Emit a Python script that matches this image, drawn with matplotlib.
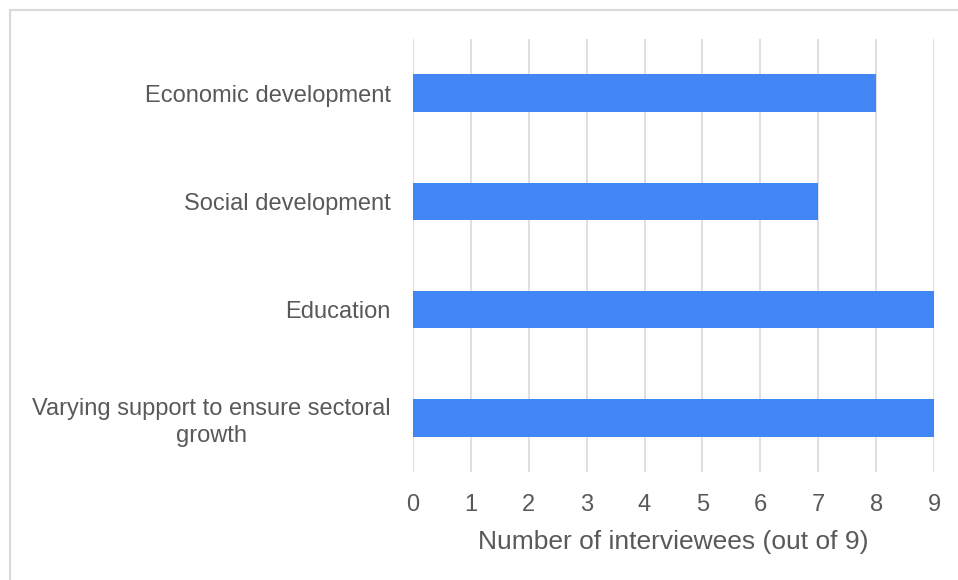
import matplotlib
matplotlib.use("Agg")
import matplotlib.pyplot as plt
from matplotlib.patches import Rectangle

categories = ["Economic development", "Social development", "Education",
              "Varying support to ensure sectoral\ngrowth"]
values = [8, 7, 9, 9]
xticks = [0, 1, 2, 3, 4, 5, 6, 7, 8, 9]
xlabel = "Number of interviewees (out of 9)"

plt.rcParams['font.family'] = ['Liberation Sans', 'DejaVu Sans']
W, H = 958, 580
fig = plt.figure(figsize=(W / 100, H / 100), dpi=100)
fig.patch.set_facecolor("white")
fig.add_artist(Rectangle((10 / W, -0.1), 1.2, 1 - 10 / H + 0.1, transform=fig.transFigure,
                         fill=False, edgecolor="#d9d9d9", linewidth=1.5))

ax = fig.add_axes([413 / W, 1 - 472 / H, (934 - 413) / W, (472 - 39) / H])
txt = "#595959"
ypos = list(range(len(categories)))
ax.barh(ypos, values, height=0.345, color="#4285F4", zorder=3)
ax.set_ylim(len(categories) - 0.5, -0.5)
ax.set_xlim(0, 9)
ax.set_xticks(xticks)
ax.set_xticklabels([str(t) for t in xticks], fontsize=17, color=txt)
ax.set_yticks(ypos)
ax.set_yticklabels(categories, fontsize=17, color=txt, multialignment="center",
                   linespacing=1.25)
ax.tick_params(axis="both", length=0)
ax.tick_params(axis="x", pad=16)
ax.tick_params(axis="y", pad=16)
ax.grid(axis="x", color="#d9d9d9", linewidth=1.2, zorder=0)
for s in ax.spines.values():
    s.set_visible(False)
ax.set_xlabel(xlabel, fontsize=19, color=txt, labelpad=10)

fig.savefig("out.png", dpi=100)
